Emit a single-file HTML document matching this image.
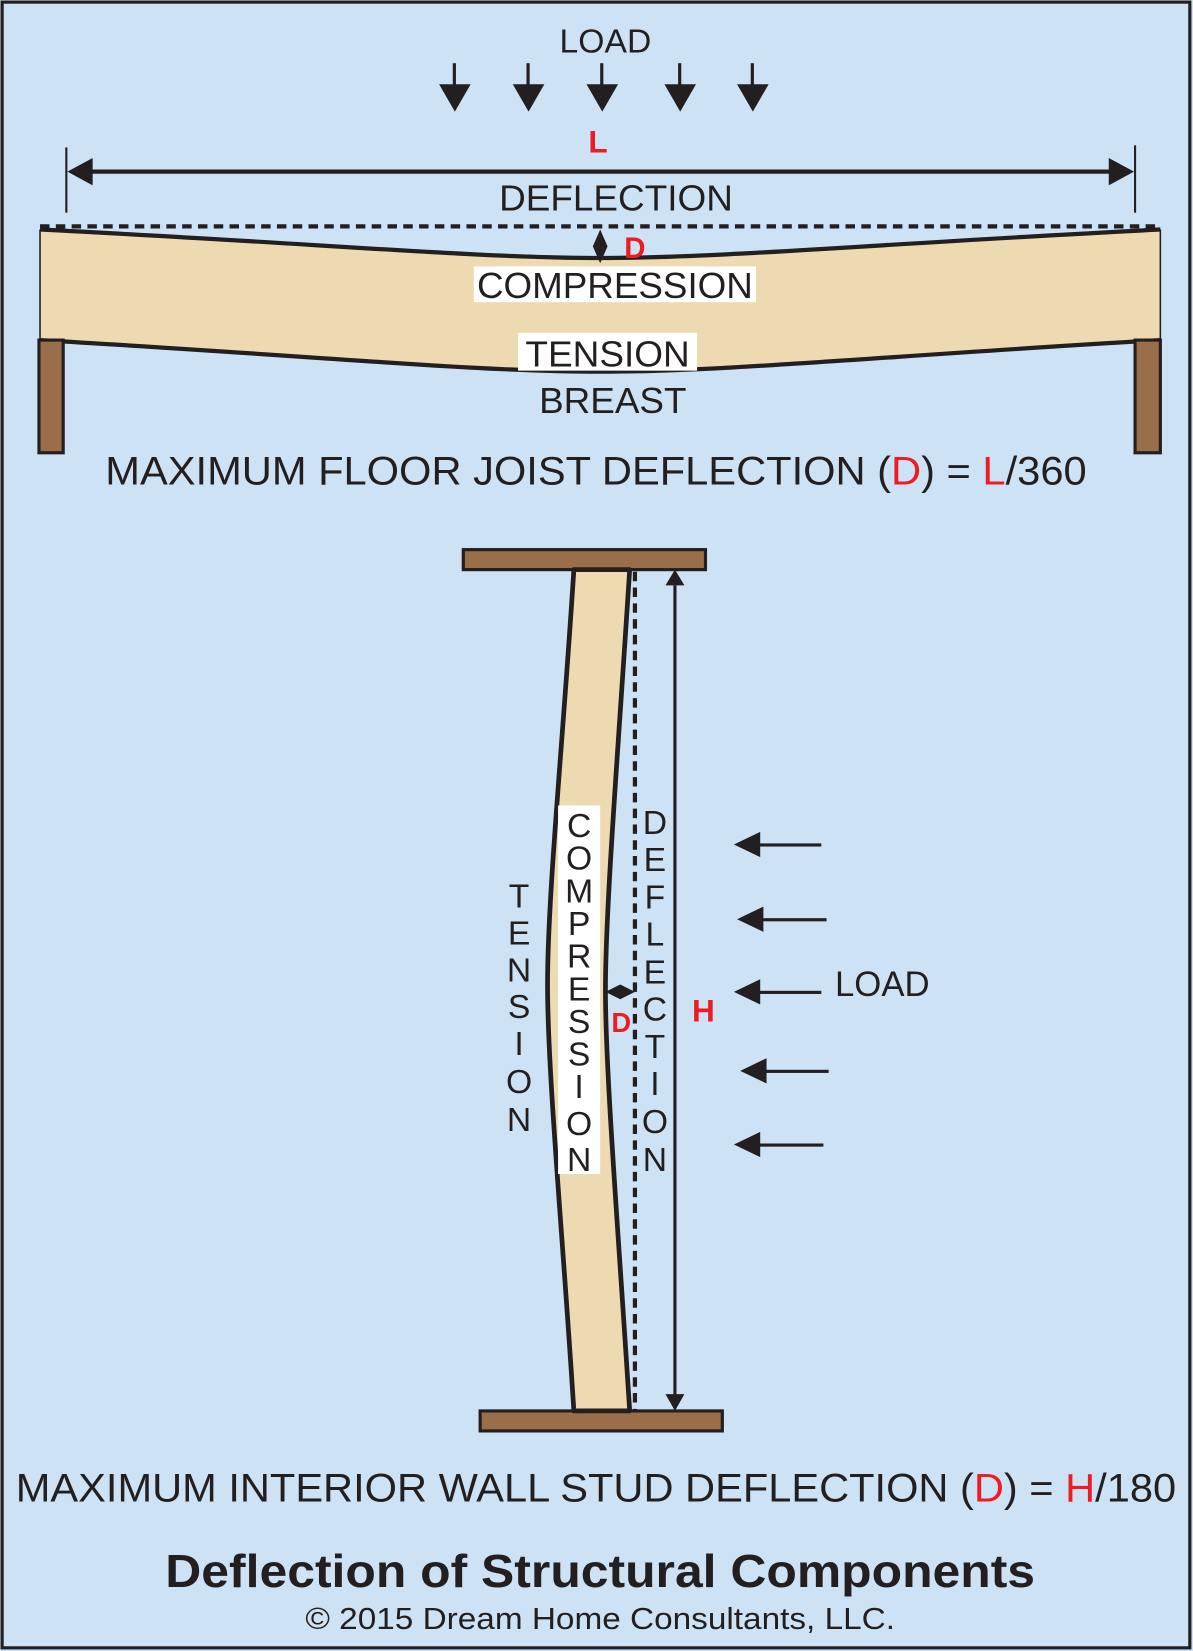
<!DOCTYPE html>
<html><head><meta charset="utf-8"><style>html,body{margin:0;padding:0;background:#cde3f5}svg{display:block}</style></head>
<body>
<svg width="1193" height="1651" viewBox="0 0 1133 1568" xmlns="http://www.w3.org/2000/svg" font-family="Liberation Sans, Arial, sans-serif">
<rect x="2" y="2" width="1128" height="1563" fill="#cde3f5" stroke="#231f20" stroke-width="3"/>
<g fill="#231f20">
<text x="575" y="50" font-size="32" text-anchor="middle">LOAD</text>
<g>
<rect x="430" y="60" width="3" height="22"/><path d="M417,80 L447,80 L432,106z"/>
<rect x="500" y="60" width="3" height="22"/><path d="M487,80 L517,80 L502,106z"/>
<rect x="570" y="60" width="3" height="22"/><path d="M557,80 L587,80 L572,106z"/>
<rect x="644" y="60" width="3" height="22"/><path d="M631,80 L661,80 L646,106z"/>
<rect x="713" y="60" width="3" height="22"/><path d="M700,80 L730,80 L715,106z"/>
</g>
<text x="568" y="145" font-size="30" font-weight="bold" fill="#ed1c24" text-anchor="middle">L</text>
<rect x="62" y="140" width="2" height="62"/><rect x="1077" y="138" width="2" height="64"/>
<rect x="80" y="161" width="980" height="4"/>
<path d="M64,163 L88,150 L88,176z"/><path d="M1077,163 L1053,150 L1053,176z"/>
<text x="585" y="200" font-size="34" text-anchor="middle" textLength="222" lengthAdjust="spacingAndGlyphs">DEFLECTION</text>
</g>
<line x1="38" y1="215" x2="1102" y2="215" stroke="#231f20" stroke-width="4" stroke-dasharray="9,6"/>
<path d="M38,218 C300,231 450,245 570,245 C690,245 840,231 1102,218 L1102,323 C840,338 690,353 570,353 C450,353 300,338 38,323 Z" fill="#eddab0"/>
<path d="M38,218 C300,231 450,245 570,245 C690,245 840,231 1102,218 M38,323 C300,338 450,353 570,353 C690,353 840,338 1102,323" fill="none" stroke="#231f20" stroke-width="4"/>
<path d="M38,218 L38,323 M1102,218 L1102,323" stroke="#231f20" stroke-width="1.5"/>
<rect x="37" y="323" width="23" height="107" fill="#9a6e48" stroke="#231f20" stroke-width="3"/>
<rect x="1078" y="323" width="24" height="107" fill="#9a6e48" stroke="#231f20" stroke-width="3"/>
<path d="M570,218 L577,234 L570,250 L563,234z" fill="#231f20"/>
<text x="603" y="245" font-size="28" font-weight="bold" fill="#ed1c24" text-anchor="middle">D</text>
<rect x="450" y="253" width="268" height="34" fill="#fff"/>
<text x="584" y="283" font-size="34" text-anchor="middle" fill="#231f20" textLength="262" lengthAdjust="spacingAndGlyphs">COMPRESSION</text>
<rect x="492" y="316" width="170" height="36" fill="#fff"/>
<text x="577" y="348" font-size="34" text-anchor="middle" fill="#231f20" textLength="156" lengthAdjust="spacingAndGlyphs">TENSION</text>
<text x="582" y="392" font-size="34" text-anchor="middle" fill="#231f20" textLength="140" lengthAdjust="spacingAndGlyphs">BREAST</text>
<text x="100" y="460" font-size="38" fill="#231f20" textLength="932" lengthAdjust="spacingAndGlyphs">MAXIMUM FLOOR JOIST DEFLECTION (<tspan fill="#ed1c24">D</tspan>) = <tspan fill="#ed1c24">L</tspan>/360</text>

<rect x="440" y="522" width="230" height="19" fill="#9a6e48" stroke="#231f20" stroke-width="3"/>
<rect x="456" y="1340" width="230" height="19" fill="#9a6e48" stroke="#231f20" stroke-width="3"/>
<path d="M545,541 C535,700 520,850 520,935 C520,1020 535,1180 545,1340 L598,1340 C588,1180 575,1020 575,940 C575,860 588,700 598,541 Z" fill="#eddab0" stroke="#231f20" stroke-width="4.5" stroke-linejoin="round"/>
<line x1="603" y1="543" x2="603" y2="1340" stroke="#231f20" stroke-width="4" stroke-dasharray="9,6"/>
<line x1="641" y1="556" x2="641" y2="1326" stroke="#231f20" stroke-width="3"/>
<path d="M641,541 L632,556 L650,556z M641,1340 L632,1324 L650,1324z" fill="#231f20"/>
<path d="M575,942 L589,935 L603,942 L589,949z" fill="#231f20"/>
<text x="590" y="980" font-size="26" font-weight="bold" fill="#ed1c24" text-anchor="middle">D</text>
<text x="668" y="970" font-size="30" font-weight="bold" fill="#ed1c24" text-anchor="middle">H</text>
<rect x="530" y="765" width="40" height="350" fill="#fff"/>
<g font-size="32" fill="#231f20" text-anchor="middle">
<text x="493" y="862">T</text><text x="493" y="897">E</text><text x="493" y="932">N</text><text x="493" y="967">S</text><text x="493" y="1002">I</text><text x="493" y="1038">O</text><text x="493" y="1074">N</text>
<text x="550" y="795">C</text><text x="550" y="826">O</text><text x="550" y="857">M</text><text x="550" y="888">P</text><text x="550" y="919">R</text><text x="550" y="950">E</text><text x="550" y="981">S</text><text x="550" y="1012">S</text><text x="550" y="1043">I</text><text x="550" y="1078">O</text><text x="550" y="1112">N</text>
<text x="622" y="792">D</text><text x="622" y="827">E</text><text x="622" y="863">F</text><text x="622" y="898">L</text><text x="622" y="934">E</text><text x="622" y="969">C</text><text x="622" y="1005">T</text><text x="622" y="1040">I</text><text x="622" y="1076">O</text><text x="622" y="1112">N</text>
</g>
<g fill="#231f20">
<rect x="715" y="801" width="65" height="3"/><path d="M697,802 L722,790 L722,814z"/>
<rect x="718" y="872" width="67" height="3"/><path d="M700,873 L725,861 L725,885z"/>
<rect x="715" y="941" width="65" height="3"/><path d="M697,942 L722,930 L722,954z"/>
<rect x="721" y="1016" width="66" height="3"/><path d="M703,1017 L728,1005 L728,1029z"/>
<rect x="715" y="1086" width="67" height="3"/><path d="M697,1087 L722,1075 L722,1099z"/>
<text x="793" y="946" font-size="33">LOAD</text>
</g>
<text x="15" y="1426" font-size="38" fill="#231f20" textLength="1102" lengthAdjust="spacingAndGlyphs">MAXIMUM INTERIOR WALL STUD DEFLECTION (<tspan fill="#ed1c24">D</tspan>) = <tspan fill="#ed1c24">H</tspan>/180</text>
<text x="570" y="1507" font-size="44" font-weight="bold" fill="#231f20" text-anchor="middle" textLength="826" lengthAdjust="spacingAndGlyphs">Deflection of Structural Components</text>
<text x="570" y="1547" font-size="29" fill="#231f20" text-anchor="middle" textLength="560" lengthAdjust="spacingAndGlyphs">© 2015 Dream Home Consultants, LLC.</text>
</svg>
</body></html>
